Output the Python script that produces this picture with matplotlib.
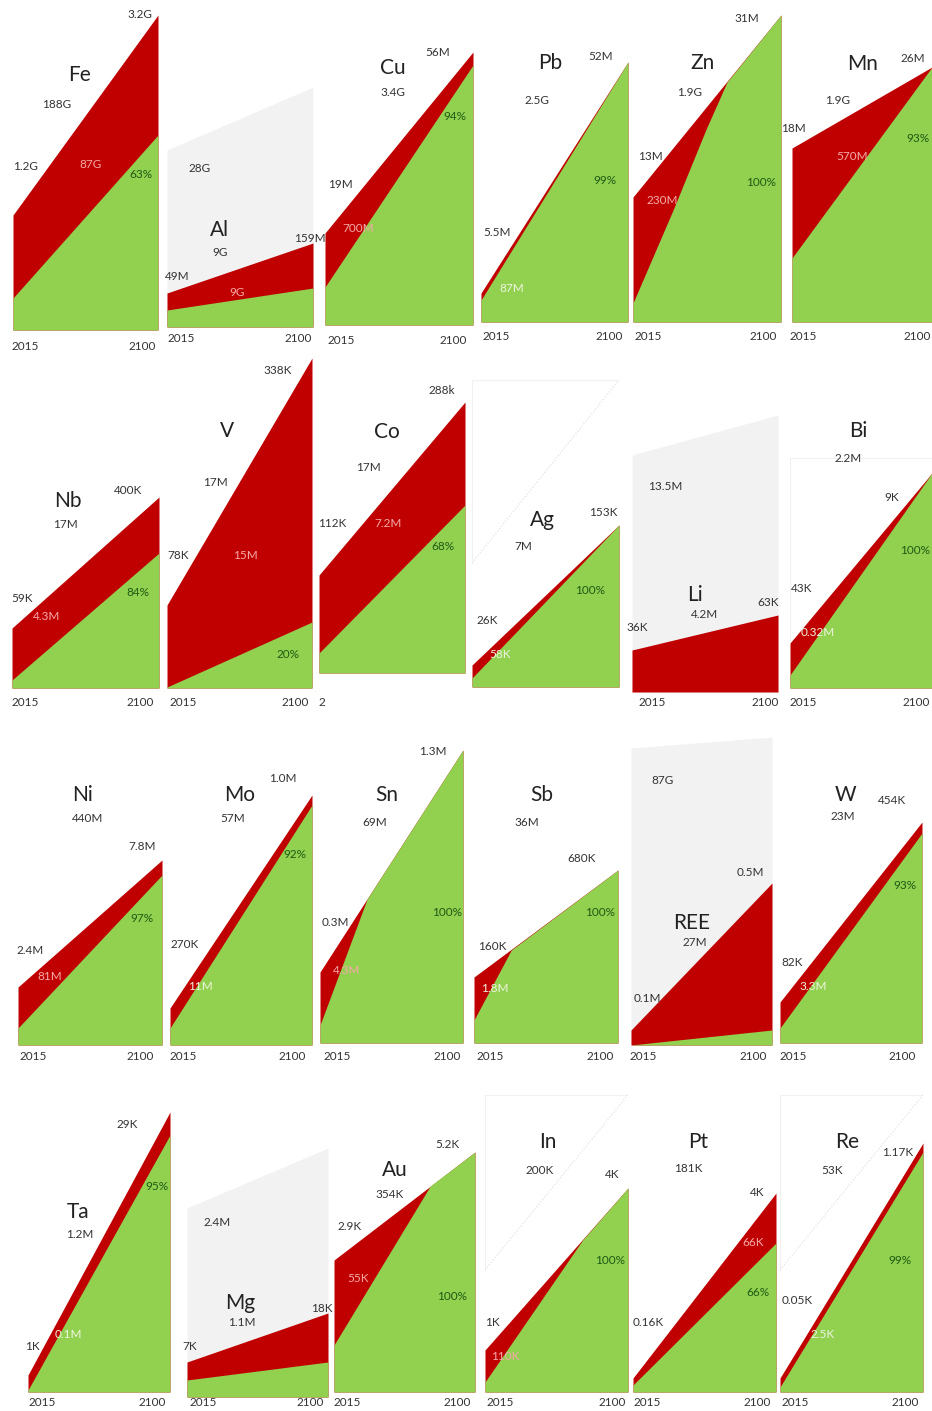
import matplotlib
matplotlib.use("Agg")
import matplotlib.pyplot as plt

plt.rcParams['font.family'] = ['Lato', 'DejaVu Sans']

W, H = 932, 1411

# ---- data (relative heights, arbitrary units per panel) ----
names = ["Fe", "Al", "Cu", "Pb", "Zn", "Mn",
         "Nb", "V", "Co", "Ag", "Li", "Bi",
         "Ni", "Mo", "Sn", "Sb", "REE", "W",
         "Ta", "Mg", "Au", "In", "Pt", "Re"]

# total demand, 2015 -> 2100 (top edge of the red area)
demand_2015 = [115, 34, 92, 29, 125, 174,
               60, 83, 98, 22, 42, 45,
               58, 37, 71, 66, 15, 41,
               17, 35, 132, 42, 14, 14]
demand_2100 = [315, 84, 273, 260, 307, 255,
               191, 330, 271, 162, 77, 215,
               185, 250, 293, 173, 162, 221,
               280, 84, 240, 204, 199, 249]

# recycled supply (top edge of the green area)
recycled_years = [[2015, 2100], [2015, 2100], [2015, 2100], [2015, 2100],
                  [2015, 2038, 2057, 2069, 2100], [2015, 2100],
                  [2015, 2100], [2015, 2100], [2015, 2100], [2015, 2100], [2015, 2100], [2015, 2100],
                  [2015, 2100], [2015, 2100], [2015, 2043, 2100], [2015, 2037, 2100], [2015, 2100], [2015, 2100],
                  [2015, 2100], [2015, 2100], [2015, 2073, 2100], [2015, 2073, 2100], [2015, 2100], [2015, 2100]]
recycled = [[32, 195], [17, 39], [38, 260], [22, 260],
            [19, 112, 193, 240, 307], [64, 255],
            [8, 135], [1, 66], [20, 168], [9, 162], [0, 0], [13, 215],
            [17, 170], [17, 240], [18, 144, 293], [23, 93, 173], [0, 15], [15, 210],
            [2, 257], [17, 35], [47, 206, 240], [10, 152, 204], [7, 149], [5, 240]]

# reserves (grey area), only where drawn
reserve = {"Al": (177, 240), "Li": (237, 277), "REE": (297, 308), "Mg": (189, 249)}
# faint reserve outlines
outline = {"Ag": (124, 307), "In": (122, 297), "Re": (122, 297)}

# labels per panel: reserves, 2015 value, 2100 value, cumulative primary, recycled share
lab_reserve = ["188G", "9G", "3.4G", "2.5G", "1.9G", "1.9G",
               "17M", "17M", "17M", "7M", "4.2M", "2.2M",
               "440M", "57M", "69M", "36M", "27M", "23M",
               "1.2M", "1.1M", "354K", "200K", "181K", "53K"]
lab_start = ["1.2G", "49M", "19M", "5.5M", "13M", "18M",
             "59K", "78K", "112K", "26K", "36K", "43K",
             "2.4M", "270K", "0.3M", "160K", "0.1M", "82K",
             "1K", "7K", "2.9K", "1K", "0.16K", "0.05K"]
lab_end = ["3.2G", "159M", "56M", "52M", "31M", "26M",
           "400K", "338K", "288k", "153K", "63K", "9K",
           "7.8M", "1.0M", "1.3M", "680K", "0.5M", "454K",
           "29K", "18K", "5.2K", "4K", "4K", "1.17K"]
lab_cum = ["87G", "9G", "700M", "87M", "230M", "570M",
           "4.3M", "15M", "7.2M", "58K", None, "0.32M",
           "81M", "11M", "4.3M", "1.8M", None, "3.3M",
           "0.1M", None, "55K", "110K", "66K", "2.5K"]
lab_pct = ["63%", None, "94%", "99%", "100%", "93%",
           "84%", "20%", "68%", "100%", None, "100%",
           "97%", "92%", "100%", "100%", None, "93%",
           "95%", None, "100%", "100%", "66%", "99%"]
lab_extra = {"Al": "28G", "Li": "13.5M", "REE": "87G", "Mg": "2.4M"}
on_green = {"87M", "58K", "0.32M", "11M", "1.8M", "3.3M", "0.1M", "2.5K"}

# ---- layout (pixels): panel left, right, baseline ----
panel_box = [(13, 158, 330), (167, 313, 327), (325, 473, 325), (481, 628, 322), (633, 781, 322), (792, 932, 322),
             (12, 159, 688), (167, 312, 688), (319, 465, 673), (472, 619, 687), (632, 778, 692), (790, 932, 688),
             (18, 162, 1045), (170, 312, 1045), (320, 463, 1043), (474, 618, 1043), (631, 772, 1045), (780, 922, 1043),
             (28, 170, 1392), (187, 328, 1397), (334, 475, 1392), (485, 628, 1392), (633, 776, 1392), (780, 923, 1392)]

# label centres (pixels): name, reserve, start, end, cumulative, pct, extra, year2015, year2100
pos = {
    "Fe": [(80, 75), (57, 105), (25, 167), (140, 15), (90, 165), (141, 175), None, (25, 347), (142, 347)],
    "Al": [(220, 230), (220, 252), (177, 277), (310, 238), (237, 292), None, (200, 168), (181, 339), (298, 339)],
    "Cu": [(393, 68), (393, 92), (340, 185), (438, 52), (358, 228), (455, 117), None, (341, 340), (453, 340)],
    "Pb": [(550, 63), (537, 100), (497, 233), (601, 57), (512, 289), (605, 180), None, (496, 336), (609, 336)],
    "Zn": [(703, 63), (690, 93), (650, 157), (747, 19), (662, 200), (761, 183), None, (648, 336), (763, 336)],
    "Mn": [(863, 64), (838, 101), (793, 129), (913, 58), (852, 157), (918, 138), None, (803, 336), (917, 336)],
    "Nb": [(68, 501), (65, 525), (22, 598), (128, 490), (47, 617), (138, 592), None, (25, 703), (140, 703)],
    "V":  [(227, 431), (215, 482), (178, 555), (278, 370), (245, 555), (288, 655), None, (183, 703), (295, 703)],
    "Co": [(387, 432), (368, 468), (332, 523), (442, 390), (388, 523), (443, 547), None, None, None],
    "Ag": [(542, 520), (523, 547), (487, 620), (603, 512), (500, 655), (590, 590), None, None, None],
    "Li": [(695, 595), (705, 615), (637, 628), (768, 603), None, None, (665, 487), (652, 703), (765, 703)],
    "Bi": [(858, 431), (848, 458), (802, 588), (892, 497), (818, 632), (915, 550), None, (803, 703), (916, 703)],
    "Ni": [(83, 795), (88, 818), (30, 950), (142, 847), (50, 977), (142, 918), None, (33, 1057), (140, 1057)],
    "Mo": [(240, 795), (233, 818), (185, 945), (283, 778), (200, 987), (295, 855), None, (183, 1057), (292, 1057)],
    "Sn": [(387, 795), (375, 822), (335, 923), (433, 752), (347, 970), (447, 913), None, (337, 1057), (447, 1057)],
    "Sb": [(542, 795), (527, 822), (492, 947), (582, 858), (495, 988), (600, 912), None, (490, 1057), (600, 1057)],
    "REE": [(692, 923), (695, 942), (647, 998), (750, 872), None, None, (662, 780), (643, 1057), (753, 1057)],
    "W":  [(845, 795), (843, 817), (792, 962), (892, 800), (813, 987), (905, 885), None, (793, 1057), (902, 1057)],
    "Ta": [(78, 1212), (80, 1235), (32, 1347), (127, 1125), (68, 1335), (157, 1187), None, (42, 1403), (152, 1403)],
    "Mg": [(240, 1303), (242, 1323), (190, 1347), (322, 1308), None, None, (217, 1223), (203, 1403), (310, 1403)],
    "Au": [(395, 1170), (390, 1195), (350, 1227), (447, 1145), (358, 1278), (452, 1297), None, (347, 1403), (457, 1403)],
    "In": [(548, 1142), (540, 1170), (492, 1323), (612, 1175), (505, 1357), (610, 1260), None, (500, 1403), (612, 1403)],
    "Pt": [(698, 1142), (688, 1168), (648, 1322), (757, 1192), (753, 1242), (758, 1293), None, (647, 1403), (757, 1403)],
    "Re": [(847, 1142), (832, 1170), (797, 1300), (898, 1152), (823, 1335), (900, 1260), None, (795, 1403), (905, 1403)],
}

RED = "#C00000"
GREEN = "#92D050"
GREY = "#F2F2F2"
SPAN = 340  # pixel height of every panel's y-range

fig = plt.figure(figsize=(W / 100, H / 100), dpi=100)


def ftext(s, xy, size, color):
    if s is None or xy is None:
        return
    fig.text(xy[0] / W, 1 - xy[1] / H, s, ha="center", va="center",
             fontsize=size, color=color)


for i, name in enumerate(names):
    left, right, base = panel_box[i]
    ax = fig.add_axes([left / W, 1 - base / H, (right - left) / W, SPAN / H])
    ax.set_xlim(2015, 2100)
    ax.set_ylim(0, SPAN)
    ax.axis("off")
    ax.patch.set_alpha(0)

    if name in reserve:
        r0, r1 = reserve[name]
        ax.fill_between([2015, 2100], 0, [r0, r1], color=GREY, lw=0)
    if name in outline:
        o0, o1 = outline[name]
        ax.plot([2015, 2015, 2100], [o0, o1, o1], color="#f1f1f1", lw=0.8)
        ax.plot([2015, 2100], [o0, o1], color="#e2e2e2", lw=0.9, ls=(0, (1, 1.5)))
    if name == "Bi":
        ax.plot([2015, 2015, 2100], [48, 230, 230], color="#f1f1f1", lw=0.8)

    ax.fill_between([2015, 2100], 0, [demand_2015[i], demand_2100[i]], color=RED, lw=0)
    ax.fill_between(recycled_years[i], 0, recycled[i], color=GREEN, lw=0)
    ax.plot([2100, 2100], [0, max(demand_2100[i], recycled[i][-1])], color="#6f8f4f", lw=0.6)

    p = pos[name]
    ftext(name, p[0], 15, "#222222")
    ftext(lab_reserve[i], p[1], 8.5, "#333333")
    ftext(lab_start[i], p[2], 8.5, "#333333")
    ftext(lab_end[i], p[3], 8.5, "#333333")
    ftext(lab_cum[i], p[4], 8.5, "#EEF5E0" if lab_cum[i] in on_green else "#F6AAAA")
    ftext(lab_pct[i], p[5], 8.5, "#1E5A14")
    ftext(lab_extra.get(name), p[6], 8.5, "#333333")
    ftext("2015", p[7], 8.5, "#333333")
    ftext("2100", p[8], 8.5, "#333333")

# Co's year labels are hidden behind the silver panel in the original
ftext("2", (322, 703), 8.5, "#333333")

fig.savefig("out.png", dpi=100)
